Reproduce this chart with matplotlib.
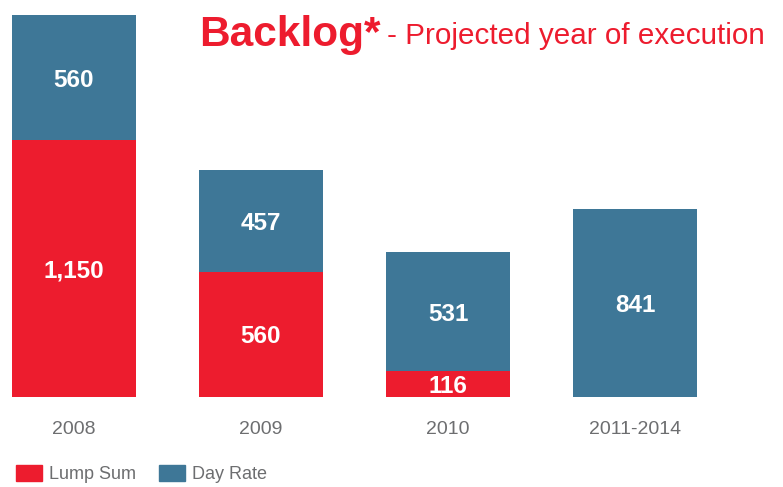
import matplotlib
matplotlib.use('Agg')
import matplotlib.pyplot as plt
from matplotlib.patches import Patch

plt.rcParams['font.family'] = ['Liberation Sans', 'DejaVu Sans']

YEARS = ["2008", "2009", "2010", "2011-2014"]
LUMP_SUM = [1150, 560, 116, 0]
DAY_RATE = [560, 457, 531, 841]

RED = '#ED1C2E'
BLUE = '#3E7797'
GREY = '#6D6E70'

fig = plt.figure(figsize=(7.83, 4.87), dpi=100)
ax = fig.add_axes([0, 90 / 487, 1, 397 / 487])

x = list(range(len(YEARS)))
width = 0.663
ax.bar(x, LUMP_SUM, width=width, color=RED)
ax.bar(x, DAY_RATE, width=width, bottom=LUMP_SUM, color=BLUE)

for i in x:
    if LUMP_SUM[i] > 0:
        ax.text(i, LUMP_SUM[i] / 2, f"{LUMP_SUM[i]:,}", ha='center', va='center_baseline',
                color='white', fontsize=17.5, fontweight='bold')
    ax.text(i, LUMP_SUM[i] + DAY_RATE[i] / 2, f"{DAY_RATE[i]:,}", ha='center', va='center_baseline',
            color='white', fontsize=17.5, fontweight='bold')

ax.set_xlim(-74 / 187, (783 - 74) / 187)
ax.set_ylim(0, 397 / 0.2234)
ax.axis('off')

# year labels under the bars
for i, yr in enumerate(YEARS):
    ax.text(i, -33 / 0.2234, yr, ha='center', va='center', color=GREY, fontsize=14)

fig.text(199 / 783, 1 - 46 / 487, "Backlog*", color=RED, fontsize=30.5, fontweight='bold',
         ha='left', va='baseline')
fig.text(765 / 783, 1 - 44 / 487, "- Projected year of execution", color=RED, fontsize=21.3,
         ha='right', va='baseline')

handles = [Patch(color=RED, label='Lump Sum'), Patch(color=BLUE, label='Day Rate')]
fig.legend(handles=handles, loc='center left', bbox_to_anchor=(0.0, 13 / 487), ncol=2, frameon=False,
           fontsize=13, labelcolor=GREY, handlelength=1.4, handleheight=1.0,
           handletextpad=0.4, columnspacing=1.3, borderaxespad=0.5)

fig.savefig('out.png', dpi=100, facecolor='white')
